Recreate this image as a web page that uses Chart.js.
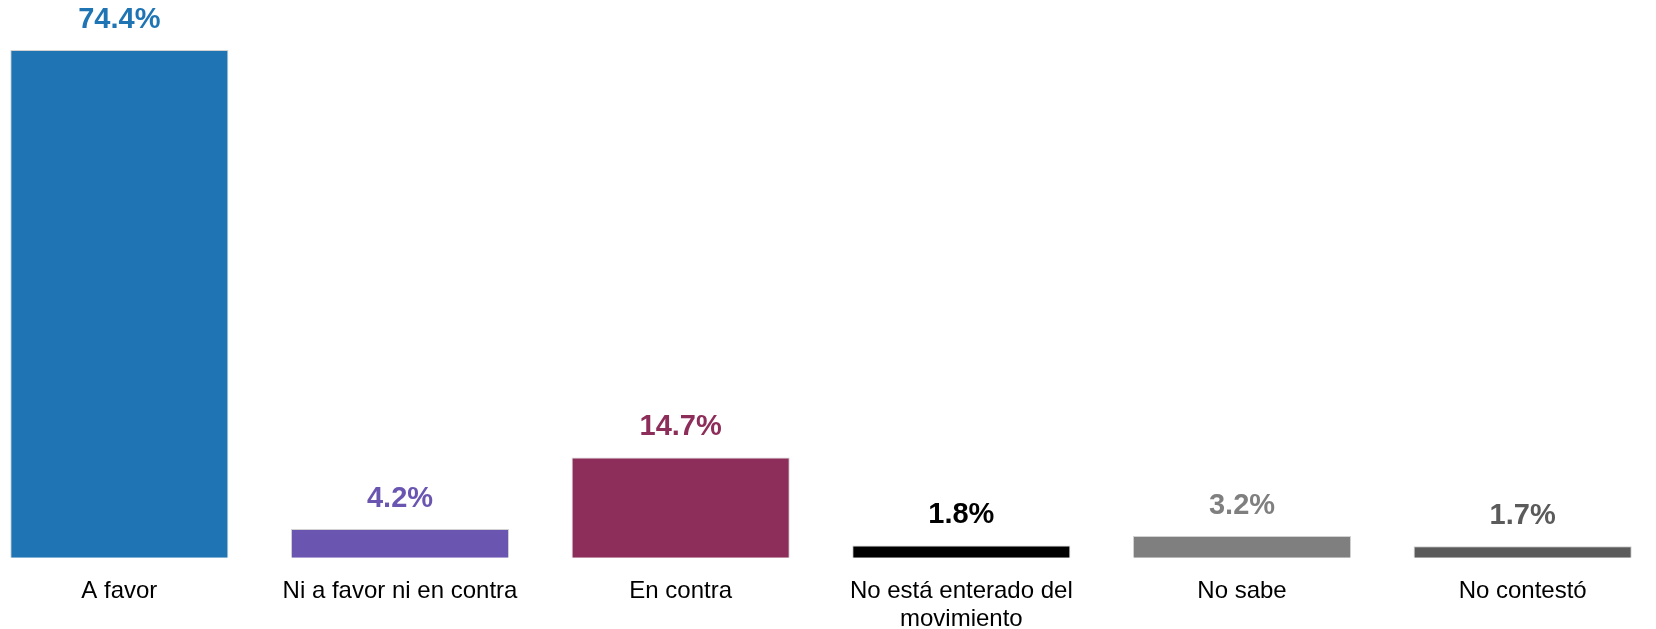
<!DOCTYPE html>
<html>
<head>
<meta charset="utf-8">
<script src="https://cdn.jsdelivr.net/npm/chart.js@4.4.1/dist/chart.umd.min.js"></script>
<style>
  html, body { margin: 0; padding: 0; background: #fff; overflow: hidden; }
  #wrap { position: relative; width: 1656px; height: 629px; overflow: hidden; }
  #chart { position: absolute; left: -21px; top: 0; }
</style>
</head>
<body>
<div id="wrap">
  <canvas id="chart" width="1684" height="651"></canvas>
</div>
<script>
  const categories = ['A favor', 'Ni a favor ni en contra', 'En contra', ['No está enterado del', 'movimiento'], 'No sabe', 'No contestó'];
  const values = [74.4, 4.2, 14.7, 1.8, 3.2, 1.7];
  const valueLabels = ['74.4%', '4.2%', '14.7%', '1.8%', '3.2%', '1.7%'];
  const barColors = ['#1f75b4', '#6a55b1', '#8d2d5a', '#000000', '#7f7f7f', '#5b5b5b'];

  // etiquetas de valor encima de cada barra
  const valueLabelPlugin = {
    id: 'valueLabels',
    afterDatasetsDraw(chart) {
      const ctx = chart.ctx;
      const meta = chart.getDatasetMeta(0);
      ctx.save();
      ctx.font = 'bold 29px "Liberation Sans", Arial, sans-serif';
      ctx.textAlign = 'center';
      ctx.textBaseline = 'alphabetic';
      meta.data.forEach(function(bar, i) {
        ctx.fillStyle = barColors[i];
        ctx.fillText(valueLabels[i], bar.x, bar.y - 22);
      });
      ctx.restore();
    }
  };

  new Chart(document.getElementById('chart').getContext('2d'), {
    type: 'bar',
    data: {
      labels: categories,
      datasets: [{
        data: values,
        backgroundColor: barColors,
        borderColor: 'rgba(205, 205, 205, 0.9)',
        borderWidth: 1,
        barPercentage: 0.777,
        categoryPercentage: 1
      }]
    },
    options: {
      responsive: false,
      animation: false,
      layout: { padding: 0 },
      plugins: {
        legend: { display: false },
        tooltip: { enabled: false }
      },
      scales: {
        x: {
          grid: { display: false, drawTicks: false },
          border: { display: false },
          ticks: {
            color: '#000',
            padding: 18,
            maxRotation: 0,
            autoSkip: false,
            font: { family: '"Liberation Sans", Arial, sans-serif', size: 24, lineHeight: 1.17 }
          }
        },
        y: {
          display: false,
          min: -0.16,
          max: 81.74
        }
      }
    },
    plugins: [valueLabelPlugin]
  });
</script>
</body>
</html>
